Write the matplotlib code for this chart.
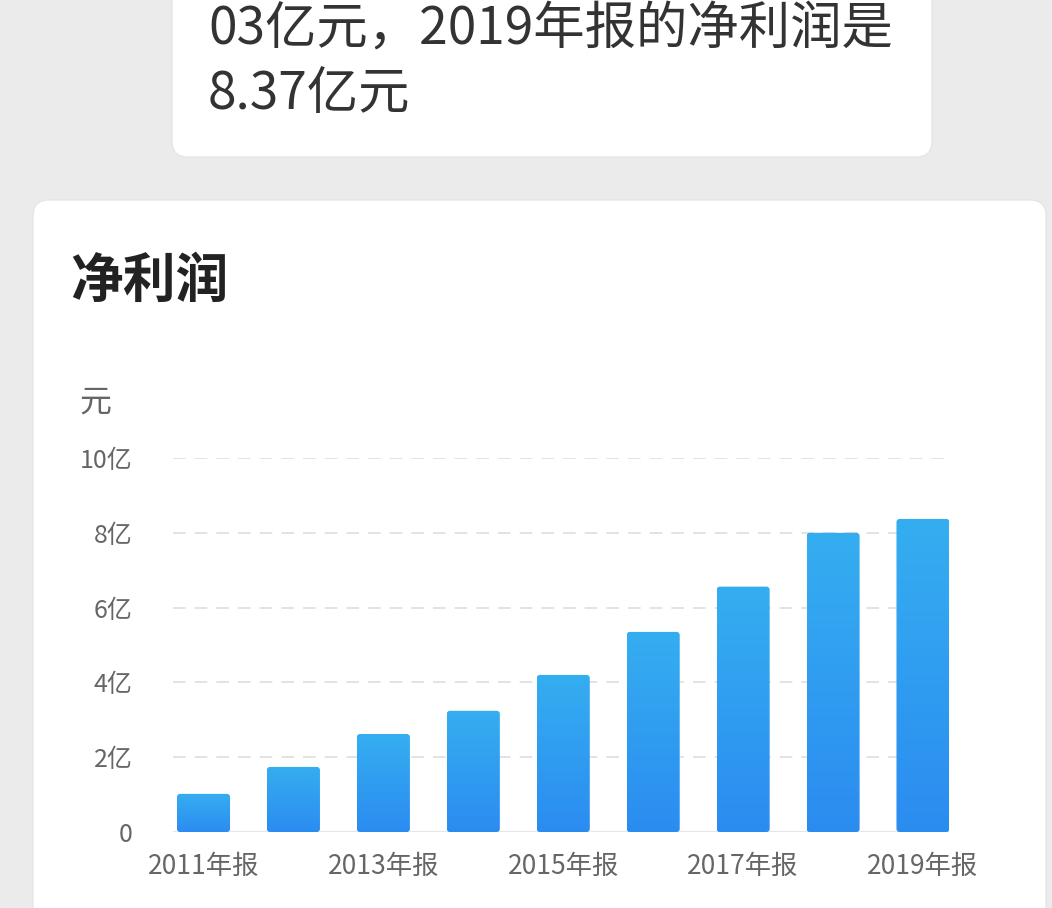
import numpy as np
import matplotlib
matplotlib.use('Agg')
from matplotlib import pyplot as plt
from matplotlib.patches import FancyBboxPatch
from matplotlib.colors import LinearSegmentedColormap
from matplotlib.transforms import IdentityTransform

plt.rcParams['font.family'] = ['Noto Sans CJK SC', 'DejaVu Sans']

# Data (net profit, in 亿元)
years = ['2011年报', '2012年报', '2013年报', '2014年报', '2015年报',
         '2016年报', '2017年报', '2018年报', '2019年报']
profit = [1.02, 1.74, 2.62, 3.24, 4.20, 5.35, 6.56, 8.00, 8.37]
yticks = [0, 2, 4, 6, 8, 10]
ytick_labels = ['0', '2亿', '4亿', '6亿', '8亿', '10亿']
intro_lines = ['03亿元，2019年报的净利润是', '8.37亿元']
title = '净利润'
unit = '元'

W, H = 1052, 908
fig = plt.figure(figsize=(W / 100, H / 100), dpi=100)
fig.patch.set_facecolor('#ebebeb')

def px(x, y):
    # pixel coords from top-left -> figure fraction
    return x / W, 1 - y / H

# cards drawn in pixel space, behind everything
top_card = FancyBboxPatch((172, H - 157), 760, 200, boxstyle='round,pad=0,rounding_size=16',
                          transform=IdentityTransform(), facecolor='white', edgecolor='#e3e3e3',
                          linewidth=0.8, zorder=-5)
low_card = FancyBboxPatch((33, -40), 1013, H - 200 + 40, boxstyle='round,pad=0,rounding_size=16',
                          transform=IdentityTransform(), facecolor='white', edgecolor='#e3e3e3',
                          linewidth=0.8, zorder=-5)
fig.patches.extend([top_card, low_card])

# top card text
fig.text(*px(208, 29), intro_lines[0], fontsize=37, color='#333333', va='center', ha='left')
fig.text(*px(208, 94), intro_lines[1], fontsize=37, color='#333333', va='center', ha='left')

# card title and unit
fig.text(*px(70, 281), title, fontsize=38, fontweight='bold', color='#222222', va='center', ha='left')
fig.text(*px(79, 403), unit, fontsize=23, color='#666666', va='center', ha='left')

# plot area
ax_left, ax_right = 173, 949
ax_top, ax_bottom = 458, 832
ax = fig.add_axes([ax_left / W, 1 - ax_bottom / H, (ax_right - ax_left) / W, (ax_bottom - ax_top) / H])
ax.set_facecolor('none')
ax.set_zorder(5)

x = np.arange(len(years))
bars = ax.bar(x, profit, width=0.59, color='none', edgecolor='none', zorder=3)

cmap = LinearSegmentedColormap.from_list('blue', ['#2b8cf0', '#35aef1'])
grad = np.linspace(0, 1, 256).reshape(-1, 1)
for b in bars:
    bx, by = b.get_x(), b.get_y()
    bw, bh = b.get_width(), b.get_height()
    clip = FancyBboxPatch((bx, by), bw, bh, boxstyle='round,pad=0,rounding_size=0.035',
                          mutation_aspect=2.4, transform=ax.transData, facecolor='none',
                          edgecolor='none')
    ax.add_patch(clip)
    im = ax.imshow(grad, cmap=cmap, origin='lower', aspect='auto',
                   extent=(bx, bx + bw, by, by + bh), zorder=3)
    im.set_clip_path(clip)

ax.set_xlim(-0.339, 8.289)
ax.set_ylim(0, 10)

for spine in ax.spines.values():
    spine.set_visible(False)
ax.axhline(0, color='#e6e6e6', linewidth=1.5, zorder=2)
for v in yticks[1:]:
    ax.axhline(v, xmax=(945 - ax_left) / (ax_right - ax_left), color='#e0e0e0',
               linewidth=1.3, dashes=(7, 5), zorder=1)

ax.set_yticks(yticks)
ax.set_yticklabels(ytick_labels, fontsize=18, color='#666666')
ax.set_xticks(x[::2])
ax.set_xticklabels(years[::2], fontsize=19, color='#666666')
ax.tick_params(axis='y', length=0, pad=29)
ax.tick_params(axis='x', length=0, pad=15)

fig.savefig('out.png', dpi=100, facecolor=fig.get_facecolor())
